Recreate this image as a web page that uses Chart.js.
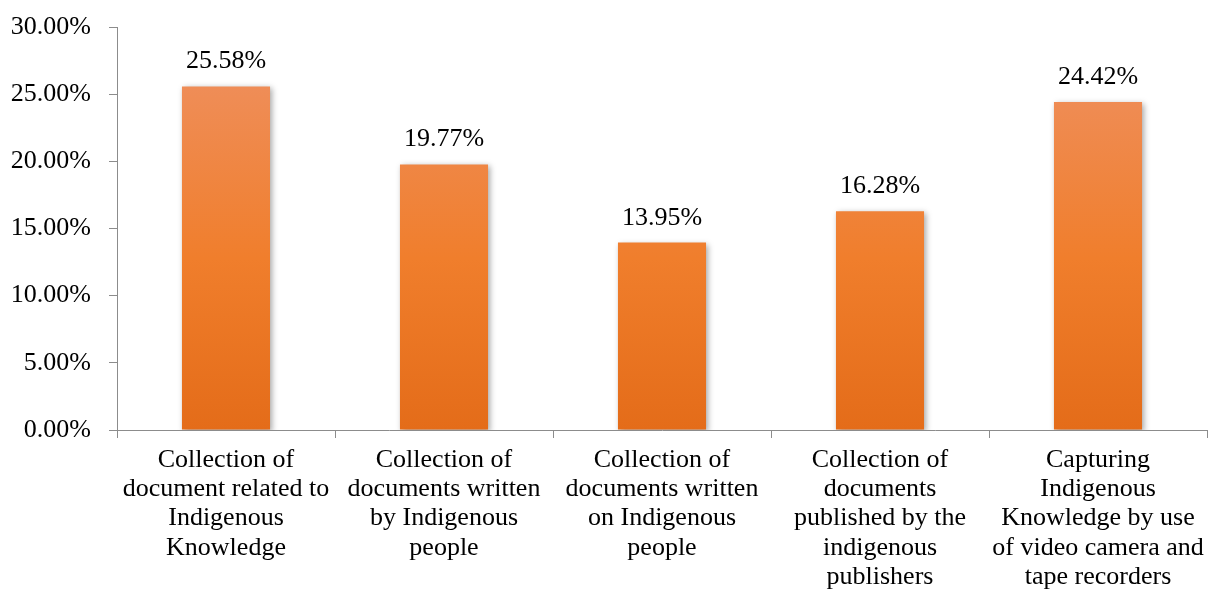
<!DOCTYPE html>
<html>
<head>
<meta charset="utf-8">
<script src="https://cdn.jsdelivr.net/npm/chart.js@4"></script>
<style>
  html, body { margin: 0; padding: 0; background: #fff; }
  #wrap { width: 1208px; height: 595px; }
</style>
</head>
<body>
<div id="wrap"><canvas id="chartCanvas" width="1208" height="595"></canvas></div>
<script>
const categories = [
    ["Collection of", "document related to", "Indigenous", "Knowledge"],
    ["Collection of", "documents written", "by Indigenous", "people"],
    ["Collection of", "documents written", "on Indigenous", "people"],
    ["Collection of", "documents", "published by the", "indigenous", "publishers"],
    ["Capturing", "Indigenous", "Knowledge by use", "of video camera and", "tape recorders"]
];
const shares = [25.58, 19.77, 13.95, 16.28, 24.42];
const yTicks = [0, 5, 10, 15, 20, 25, 30];

const serif = "'Liberation Serif', 'Times New Roman', serif";
const axisColor = '#8c8c8c';

function barGradient(context) {
    const chart = context.chart;
    const area = chart.chartArea;
    if (!area) return '#f07e2c';
    const g = chart.ctx.createLinearGradient(0, area.top + 60, 0, area.bottom);
    g.addColorStop(0, '#ef8d57');
    g.addColorStop(0.5, '#f07e2c');
    g.addColorStop(1, '#e46c19');
    return g;
}

const shadowPlugin = {
    id: 'barShadow',
    beforeDatasetsDraw(chart) {
        const ctx = chart.ctx;
        ctx.save();
        ctx.shadowColor = 'rgba(0,0,0,0.35)';
        ctx.shadowBlur = 6;
        ctx.shadowOffsetX = 2;
        ctx.shadowOffsetY = 2;
    },
    afterDatasetsDraw(chart) {
        chart.ctx.restore();
    }
};

const valueLabels = {
    id: 'valueLabels',
    afterDraw(chart) {
        const ctx = chart.ctx;
        const meta = chart.getDatasetMeta(0);
        ctx.save();
        ctx.font = '26px ' + serif;
        ctx.fillStyle = '#000';
        ctx.textAlign = 'center';
        ctx.textBaseline = 'alphabetic';
        meta.data.forEach((bar, i) => {
            ctx.fillText(shares[i].toFixed(2) + '%', bar.x, bar.y - 18);
        });
        ctx.restore();
    }
};

const ctx = document.getElementById('chartCanvas').getContext('2d');
new Chart(ctx, {
    type: 'bar',
    data: {
        labels: categories,
        datasets: [{
            data: shares,
            backgroundColor: barGradient,
            borderWidth: 0,
            categoryPercentage: 0.404,
            barPercentage: 1
        }]
    },
    options: {
        responsive: false,
        animation: false,
        layout: { padding: { top: 27, right: 1, left: 0, bottom: 0 } },
        plugins: {
            legend: { display: false },
            tooltip: { enabled: false }
        },
        scales: {
            x: {
                grid: {
                    display: true,
                    drawOnChartArea: false,
                    drawTicks: true,
                    tickLength: 8,
                    color: axisColor,
                    offset: true
                },
                border: { display: true, color: axisColor, width: 1 },
                ticks: {
                    color: '#000',
                    font: { family: serif, size: 26, lineHeight: 1.13 },
                    maxRotation: 0,
                    autoSkip: false,
                    padding: 7
                },
                afterFit(scale) {
                    scale.height = 165;
                    scale.paddingLeft = 0;
                    scale.paddingRight = 0;
                }
            },
            y: {
                min: 0,
                max: 30,
                afterBuildTicks(scale) { scale.ticks = yTicks.map(v => ({ value: v })); },
                grid: {
                    display: true,
                    drawOnChartArea: false,
                    drawTicks: true,
                    tickLength: 8,
                    color: axisColor
                },
                border: { display: true, color: axisColor, width: 1 },
                ticks: {
                    color: '#000',
                    font: { family: serif, size: 26 },
                    padding: 18,
                    callback: v => v.toFixed(2) + '%'
                },
                afterFit(scale) {
                    scale.width = 117;
                    scale.paddingTop = 0;
                    scale.paddingBottom = 0;
                }
            }
        }
    },
    plugins: [shadowPlugin, valueLabels]
});
</script>
</body>
</html>
